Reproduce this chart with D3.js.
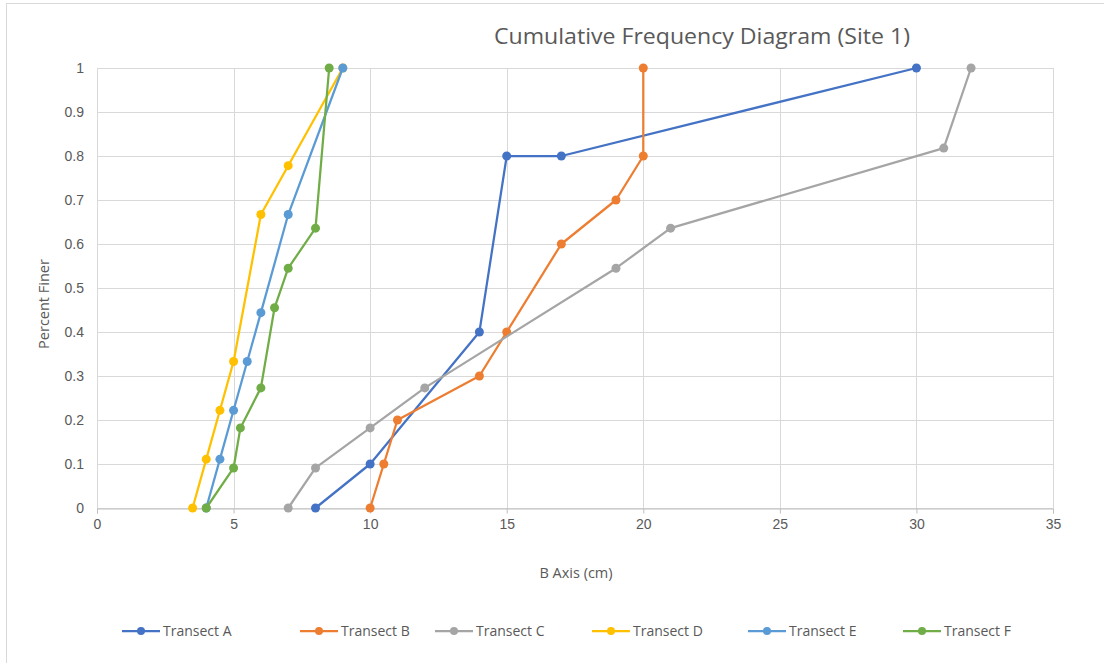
<!DOCTYPE html>
<html>
<head>
<meta charset="utf-8">
<script src="https://cdn.jsdelivr.net/npm/d3@7"></script>
<style>
  body { margin: 0; background: #fff; }
  svg { display: block; font-family: "Open Sans", sans-serif; }
</style>
</head>
<body>
<svg id="chart" width="1104" height="663"></svg>
<script>
// series
var seriesNames = ["Transect A", "Transect B", "Transect C", "Transect D", "Transect E", "Transect F"]
var seriesColors = ["#4472C4", "#ED7D31", "#A5A5A5", "#FFC000", "#5B9BD5", "#70AD47"]

var transectA_x = [8, 10, 14, 15, 17, 30]
var transectA_y = [0, 0.1, 0.4, 0.8, 0.8, 1]
var transectB_x = [10, 10.5, 11, 14, 15, 17, 19, 20, 20]
var transectB_y = [0, 0.1, 0.2, 0.3, 0.4, 0.6, 0.7, 0.8, 1]
var transectC_x = [7, 8, 10, 12, 19, 21, 31, 32]
var transectC_y = [0, 0.091, 0.182, 0.273, 0.545, 0.636, 0.818, 1]
var transectD_x = [3.5, 4, 4.5, 5, 6, 7, 9]
var transectD_y = [0, 0.111, 0.222, 0.333, 0.667, 0.778, 1]
var transectE_x = [4, 4.5, 5, 5.5, 6, 7, 9]
var transectE_y = [0, 0.111, 0.222, 0.333, 0.444, 0.667, 1]
var transectF_x = [4, 5, 5.25, 6, 6.5, 7, 8, 8.5]
var transectF_y = [0, 0.091, 0.182, 0.273, 0.455, 0.545, 0.636, 1]

var xTicks = [0, 5, 10, 15, 20, 25, 30, 35]
var yTicks = [0, 0.1, 0.2, 0.3, 0.4, 0.5, 0.6, 0.7, 0.8, 0.9, 1]

var allX = [transectA_x, transectB_x, transectC_x, transectD_x, transectE_x, transectF_x]
var allY = [transectA_y, transectB_y, transectC_y, transectD_y, transectE_y, transectF_y]

var series = seriesNames.map(function(name, i) {
	return {
		name: name,
		color: seriesColors[i],
		points: allX[i].map(function(x, j) { return {x: x, y: allY[i][j]} })
	}
})

var svg = d3.select("#chart")
var plot = {left: 97, right: 1053, top: 68, bottom: 508}
var textColor = "#595959"

// outer chart border (runs off the right / bottom edge)
svg.append("rect")
	.attr("x", 6.5).attr("y", 3.5)
	.attr("width", 1110).attr("height", 670)
	.attr("fill", "none")
	.attr("stroke", "#d9d9d9")

var x = d3.scaleLinear().domain([0, 35]).range([plot.left, plot.right])
var y = d3.scaleLinear().domain([0, 1]).range([plot.bottom, plot.top])

// gridlines
svg.append("g")
	.selectAll("line.v")
	.data(xTicks)
	.enter()
	.append("line")
	.attr("x1", function(d) { return Math.round(x(d)) + 0.5 })
	.attr("x2", function(d) { return Math.round(x(d)) + 0.5 })
	.attr("y1", plot.top)
	.attr("y2", plot.bottom)
	.attr("stroke", "#d9d9d9")

svg.append("g")
	.selectAll("line.h")
	.data(yTicks)
	.enter()
	.append("line")
	.attr("x1", plot.left)
	.attr("x2", plot.right)
	.attr("y1", function(d) { return Math.round(y(d)) + 0.5 })
	.attr("y2", function(d) { return Math.round(y(d)) + 0.5 })
	.attr("stroke", "#d9d9d9")

// x axis
var xAxis = svg.append("g")
	.attr("transform", "translate(0," + (plot.bottom + 0.5) + ")")
	.call(d3.axisBottom(x).tickValues(xTicks).tickSize(5).tickPadding(6).tickFormat(d3.format("d")))
xAxis.select(".domain").attr("stroke", "#bfbfbf")
xAxis.selectAll(".tick line").attr("stroke", "#bfbfbf")
xAxis.selectAll("text").attr("fill", textColor).style("font-size", "14px")

// y axis labels
var yAxis = svg.append("g")
	.attr("transform", "translate(" + plot.left + ",0)")
	.call(d3.axisLeft(y).tickValues(yTicks).tickSize(0).tickPadding(13).tickFormat(function(d) { return d3.format("")(d) }))
yAxis.select(".domain").remove()
yAxis.selectAll("text").attr("fill", textColor).style("font-size", "14px")

// title + axis titles
svg.append("text")
	.attr("x", 702).attr("y", 44)
	.attr("text-anchor", "middle")
	.attr("fill", textColor)
	.style("font-size", "22px")
	.attr("textLength", 416)
	.attr("lengthAdjust", "spacingAndGlyphs")
	.text("Cumulative Frequency Diagram (Site 1)")

svg.append("text")
	.attr("x", 576).attr("y", 578)
	.attr("text-anchor", "middle")
	.attr("fill", textColor)
	.style("font-size", "14.5px")
	.text("B Axis (cm)")

svg.append("text")
	.attr("transform", "translate(49,304) rotate(-90)")
	.attr("text-anchor", "middle")
	.attr("fill", textColor)
	.style("font-size", "14.5px")
	.text("Percent Finer")

// lines and markers
var line = d3.line()
	.x(function(d) { return x(d.x) })
	.y(function(d) { return y(d.y) })

var groups = svg.append("g")
	.selectAll("g")
	.data(series)
	.enter()
	.append("g")

groups.append("path")
	.attr("d", function(d) { return line(d.points) })
	.attr("fill", "none")
	.attr("stroke", function(d) { return d.color })
	.attr("stroke-width", 2.25)
	.attr("stroke-linejoin", "round")

groups.selectAll("circle")
	.data(function(d) { return d.points.map(function(p) { return {p: p, color: d.color} }) })
	.enter()
	.append("circle")
	.attr("cx", function(d) { return x(d.p.x) })
	.attr("cy", function(d) { return y(d.p.y) })
	.attr("r", 4.5)
	.attr("fill", function(d) { return d.color })

// legend
var legendX = [122, 300, 435, 592, 748, 903]
var legend = svg.append("g")
	.selectAll("g")
	.data(series)
	.enter()
	.append("g")
	.attr("transform", function(d, i) { return "translate(" + legendX[i] + ",631)" })

legend.append("line")
	.attr("x1", 0).attr("x2", 38)
	.attr("stroke", function(d) { return d.color })
	.attr("stroke-width", 2.25)
legend.append("circle")
	.attr("cx", 19).attr("r", 4)
	.attr("fill", function(d) { return d.color })
legend.append("text")
	.attr("x", 41).attr("y", 5)
	.attr("fill", textColor)
	.style("font-size", "14px")
	.text(function(d) { return d.name })
</script>
</body>
</html>
